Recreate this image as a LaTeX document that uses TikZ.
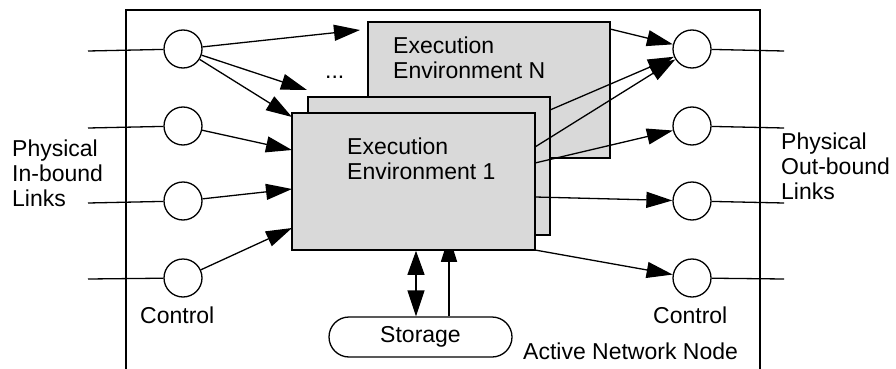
\documentclass[tikz,border=0pt]{standalone}
\usepackage{fontspec}
\setmainfont{Liberation Sans}
\usetikzlibrary{arrows.meta,calc}
\begin{document}
\begin{tikzpicture}[x=1pt,y=-1pt,
  lbl/.style={font=\fontsize{23}{25}\selectfont, inner sep=0pt, align=left},
  port/.style={draw, circle, minimum size=38pt, inner sep=0pt, line width=1.3pt},
  envbox/.style={draw, line width=1.6pt, fill=black!15, inner sep=0pt},
  flow/.style={line width=1.3pt, -{Triangle[length=26pt,width=16pt]}},
  duplex/.style={line width=1.3pt, {Triangle[length=24pt,width=17pt]}-{Triangle[length=26pt,width=17pt]}},
  link/.style={line width=1.3pt}]
\useasboundingbox (0,0) rectangle (896,369);

% node frame
\draw[line width=1.5pt] (126,369) -- (126,10) -- (760,10) -- (760,369);

% input and output ports
\node[port] (l1) at (183,49) {};
\node[port] (l2) at (183,126) {};
\node[port] (l3) at (183,201) {};
\node[port] (l4) at (183,278) {};
\node[port] (r1) at (692,49) {};
\node[port] (r2) at (692,126) {};
\node[port] (r3) at (692,201) {};
\node[port] (r4) at (692,278) {};

% physical links
\coordinate (i1) at (88,51);  \coordinate (i2) at (88,128);
\coordinate (i3) at (88,203); \coordinate (i4) at (88,279);
\coordinate (o1) at (784,51); \coordinate (o2) at (784,128);
\coordinate (o3) at (784,203); \coordinate (o4) at (784,279);
\foreach \k in {1,2,3,4} {
  \draw[link] (i\k) -- (l\k);
  \draw[link] (r\k) -- (o\k);
}

% execution environments, back to front
\node[envbox, minimum width=242pt, minimum height=136pt] (eeN) at (489,90) {};
\node[lbl, anchor=north west] (eeNtxt) at (393,37) {Execution\\Environment N};
\node[envbox, minimum width=242pt, minimum height=138pt] (eeM) at (429,166) {};
\node[envbox, minimum width=243pt, minimum height=137pt] (ee1) at (413.5,181.5) {};
\node[lbl, anchor=north west] (ee1txt) at (347,138) {Execution\\Environment 1};

% storage and its two links
\node[draw, line width=1.3pt, rounded corners=20pt, minimum width=183pt,
      minimum height=40pt, font=\fontsize{23}{25}\selectfont] (store) at (420.5,337) {Storage};
\coordinate (sa) at (416,0);
\coordinate (sb) at (449,0);
\draw[duplex] (sa |- ee1.south) -- (sa |- store.north);
% the second link runs up to the hidden back environment
\begin{scope}
  \clip ($(sb |- ee1.south)+(-20,0)$) rectangle ($(sb |- store.north)+(20,0)$);
  \draw[flow] (sb |- store.north) -- (sb |- eeM.south);
\end{scope}

\node[lbl, anchor=base west] (dots) at (325,78) {...};

% flows from the in-bound ports
\coordinate (a1) at (360,30);
\coordinate (a2) at (307,90);
\coordinate (a3) at (292,117);
\coordinate (a4) at (292,150);
\coordinate (a5) at (292,189);
\coordinate (a6) at (292,228);
\draw[flow] (l1) -- (a1);
\draw[flow] (l1) -- (a2);
\draw[flow] (l1) -- (a3);
\draw[flow] (l2) -- (a4);
\draw[flow] (l3) -- (a5);
\draw[flow] (l4) -- (a6);

% flows to the out-bound ports
\coordinate (b1) at (610,29);
\coordinate (b2) at (550,110);
\coordinate (b3) at (535,147);
\coordinate (b4) at (535,163);
\coordinate (b5) at (535,197);
\coordinate (b6) at (535,250);
\draw[flow] (b1) -- (r1);
\draw[flow] (b2) -- (r1);
\draw[flow] (b3) -- (r1);
\draw[flow] (b4) -- (r2);
\draw[flow] (b5) -- (r3);
\draw[flow] (b6) -- (r4);

% labels
\node[lbl, anchor=north west] (inlbl) at (12,140) {Physical\\In-bound\\Links};
\node[lbl, anchor=north west] (outlbl) at (781,133) {Physical\\Out-bound\\Links};
\node[lbl, anchor=north west] (ctlL) at (140,307) {Control};
\node[lbl, anchor=north west] (ctlR) at (653,307) {Control};
\node[lbl, anchor=north west] (nodelbl) at (523,343) {Active Network Node};
\end{tikzpicture}
\end{document}
